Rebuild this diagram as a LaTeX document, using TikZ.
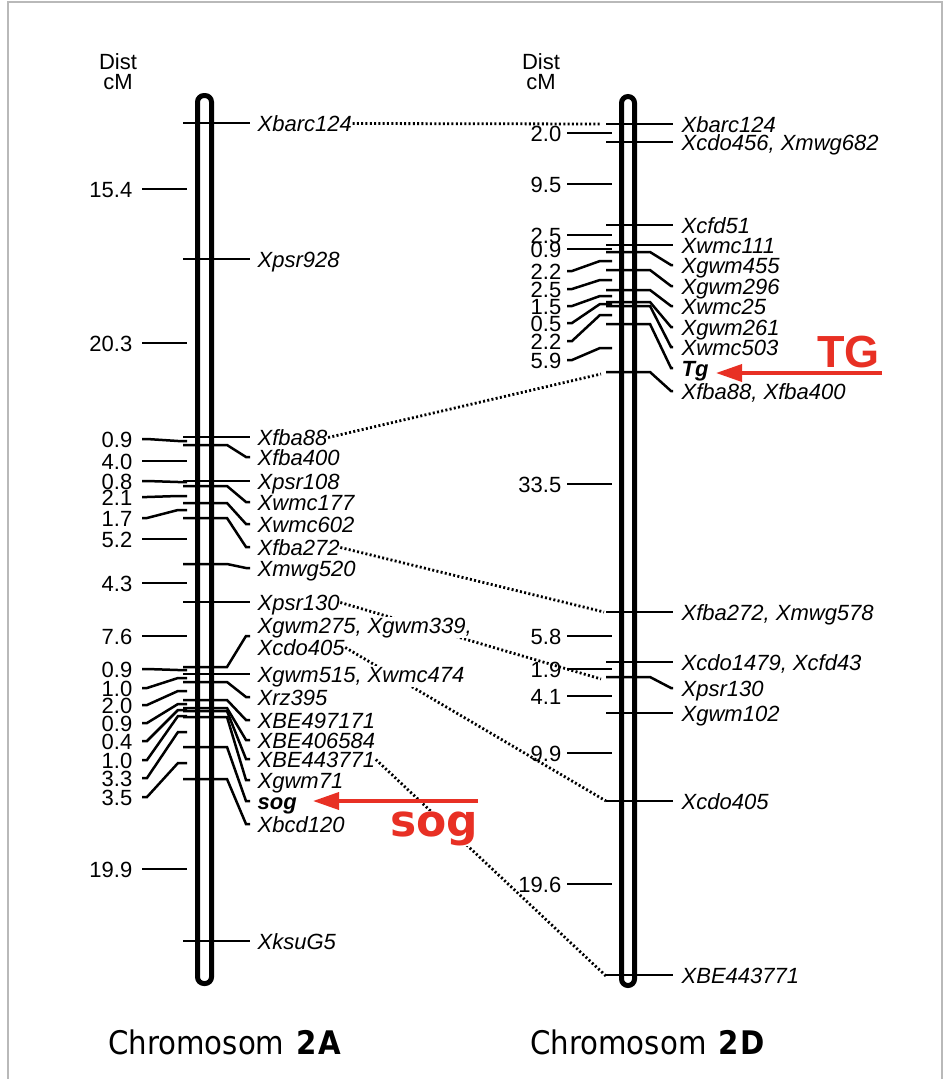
\documentclass[tikz,border=0pt]{standalone}
\usepackage{fontspec}
\setmainfont{Liberation Sans}
\newfontfamily\chromfont[FakeStretch=0.9]{DejaVu Sans}
\newfontfamily\sogfont{DejaVu Sans}
\usetikzlibrary{arrows.meta}
\definecolor{arrred}{RGB}{232,48,36}
\definecolor{framegray}{RGB}{185,185,185}
\newcommand\lblsize{\fontsize{22}{24}\selectfont}
\pgfdeclarelayer{bg}
\pgfsetlayers{bg,main}
\newcommand\LMark[4]{%
  \draw[tk] (183,#2) -- (227,#2) -- (246,#3) -- (250,#3);
  \node[mk] (#1) at (257,#3+8) {#4};}
\newcommand\RMark[4]{%
  \draw[tk] (606,#2) -- (650,#2) -- (671,#3) -- (673,#3);
  \node[mk] (#1) at (681,#3+8) {#4};}
\newcommand\LDist[4]{%
  \node[dst] (#1) at (133,#2+8) {#4};
  \draw[tk] (142,#2) -- (147,#2) -- (178,#3) -- (187,#3);}
\newcommand\RDist[4]{%
  \node[dst] (#1) at (562,#2+8) {#4};
  \draw[tk] (567,#2) -- (572,#2) -- (600,#3) -- (612,#3);}
\tikzset{
  rod/.style={line width=5pt, rounded corners=6.5pt},
  tk/.style={line width=2.5pt},
  mk/.style={anchor=base west, inner sep=0.5pt, font=\lblsize\itshape},
  dst/.style={anchor=base east, inner sep=0.5pt, font=\lblsize},
  plain/.style={inner sep=0pt, font=\lblsize},
  dotline/.style={line width=2.8pt, dash pattern=on 2pt off 2.3pt},
  redarrow/.style={draw=arrred, line width=3.6pt, -{Triangle[length=26pt,width=17pt]}},
  chrom/.style={anchor=base west, inner sep=0pt, font=\chromfont\fontsize{32.5}{34}\selectfont}
}
\begin{document}
\begin{tikzpicture}[x=1pt,y=-1pt]
\useasboundingbox (0,0) rectangle (947,1079);
\draw[framegray, line width=1.5pt] (8,1079) -- (8,2) -- (942,2) -- (942,1079);

% headers
\node[plain] (distL) at (118,62) {Dist};
\node[plain] (cmL) at (118,82) {cM};
\node[plain] (distR) at (541,62) {Dist};
\node[plain] (cmR) at (541,82) {cM};

% chromosomes
\draw[rod] (197.5,95.5) rectangle (211.5,983.5);
\draw[rod] (621.5,96.5) rectangle (634.5,985.5);

% left markers
\LMark{barcL}{123}{123}{Xbarc124}
\LMark{psr928}{259}{259}{Xpsr928}
\LMark{fba88L}{437}{437}{Xfba88}
\LMark{fba400L}{445}{457}{Xfba400}
\LMark{psr108}{481}{481}{Xpsr108}
\LMark{wmc177}{486}{502}{Xwmc177}
\LMark{wmc602}{503}{524}{Xwmc602}
\LMark{fba272L}{518}{547}{Xfba272}
\LMark{mwg520}{564}{568}{Xmwg520}
\LMark{psr130L}{602}{602}{Xpsr130}
\draw[tk] (183,667) -- (227,667) -- (246,636) -- (250,636);
\node[mk, fill=white] (gwm275) at (257,625+8) {Xgwm275, Xgwm339,};
\node[mk] (cdoL) at (257,647+8) {Xcdo405};
\LMark{gwm515}{674}{674}{Xgwm515, Xwmc474}
\LMark{rz395}{682}{697}{Xrz395}
\LMark{be497}{700}{720}{XBE497171}
\LMark{be406}{708}{740}{XBE406584}
\LMark{be443L}{711}{759}{XBE443771}
\LMark{gwm71}{717}{780}{Xgwm71}
\LMark{sogL}{747}{801}{\textbf{sog}}
\LMark{bcd120}{779}{824}{Xbcd120}
\LMark{ksu}{941}{941}{XksuG5}
\node[mk, fill=white] (gwm515b) at (257,674+8) {Xgwm515, Xwmc474};

% left distances
\LDist{e1}{189}{189}{15.4}
\LDist{e2}{343}{343}{20.3}
\LDist{e3}{439}{441}{0.9}
\LDist{e4}{461}{461}{4.0}
\LDist{e5}{481}{482}{0.8}
\LDist{e6}{497}{496}{2.1}
\LDist{e7}{518}{510}{1.7}
\LDist{e8}{539}{539}{5.2}
\LDist{e9}{583}{583}{4.3}
\LDist{e10}{636}{636}{7.6}
\LDist{e11}{669}{670}{0.9}
\LDist{e12}{688}{678}{1.0}
\LDist{e13}{705}{691}{2.0}
\LDist{e14}{723}{704}{0.9}
\LDist{e15}{741}{710}{0.4}
\LDist{e16}{760}{716}{1.0}
\LDist{e17}{778}{732}{3.3}
\LDist{e18}{797}{763}{3.5}
\LDist{e19}{869}{869}{19.9}

% right markers
\RMark{barcR}{124}{124}{Xbarc124}
\RMark{cdo456}{142}{142}{Xcdo456, Xmwg682}
\RMark{cfd51}{225}{225}{Xcfd51}
\RMark{wmc111}{245}{245}{Xwmc111}
\RMark{gwm455}{252}{265}{Xgwm455}
\RMark{gwm296}{270}{286}{Xgwm296}
\RMark{wmc25}{290}{306}{Xwmc25}
\RMark{gwm261}{302}{327}{Xgwm261}
\RMark{wmc503}{306}{347}{Xwmc503}
\RMark{tgR}{324}{368}{\textbf{Tg}}
\RMark{fba88R}{372}{391}{Xfba88, Xfba400}
\RMark{fba272R}{612}{612}{Xfba272, Xmwg578}
\RMark{cdo1479}{662}{662}{Xcdo1479, Xcfd43}
\RMark{psr130R}{677}{688}{Xpsr130}
\RMark{gwm102}{713}{713}{Xgwm102}
\RMark{cdo405R}{801}{801}{Xcdo405}
\RMark{be443R}{975}{975}{XBE443771}

% right distances
\RDist{d1}{133}{133}{2.0}
\RDist{d2}{184}{184}{9.5}
\RDist{d3}{235}{235}{2.5}
\RDist{d4}{249}{249}{0.9}
\RDist{d5}{271}{261}{2.2}
\RDist{d6}{289}{280}{2.5}
\RDist{d7}{306}{296}{1.5}
\RDist{d8}{323}{304}{0.5}
\RDist{d9}{341}{315}{2.2}
\RDist{d10}{360}{348}{5.9}
\RDist{d11}{484}{484}{33.5}
\RDist{d12}{636}{636}{5.8}
\RDist{d13}{669}{669}{1.9}
\RDist{d14}{696}{696}{4.1}
\RDist{d15}{753}{753}{9.9}
\RDist{d16}{884}{884}{19.6}

% dotted connectors (background)
\coordinate (rbarc) at (601,124);
\coordinate (rfba88) at (601,374);
\coordinate (rfba272) at (604,612);
\coordinate (rpsr130) at (601,679);
\coordinate (rcdo405) at (606,801);
\coordinate (rbe443) at (606,976);
\begin{pgfonlayer}{bg}
\draw[dotline] ([yshift=7.5pt]barcL.base east) -- (rbarc);
\draw[dotline] ([yshift=7.5pt]fba88L.base east) -- (rfba88);
\draw[dotline] ([yshift=7.5pt]fba272L.base east) -- (rfba272);
\draw[dotline] ([yshift=7.5pt]psr130L.base east) -- (rpsr130);
\draw[dotline] ([yshift=7.5pt]cdoL.base east) -- (rcdo405);
\draw[dotline] ([yshift=7.5pt]be443L.base east) -- (rbe443);
\end{pgfonlayer}

% red annotations
\node[anchor=base east, inner sep=0pt, text=arrred, font=\fontsize{45}{47}\selectfont\bfseries] (TGt) at (880,367) {TG};
\coordinate (tgtail) at (882,373);
\coordinate (tgtip) at (716,373);
\draw[redarrow] (tgtail) -- (tgtip);
\node[anchor=base west, inner sep=0pt, fill=white, text=arrred, font=\sogfont\fontsize{44}{46}\selectfont\bfseries] (sogt) at (390,836) {sog};
\coordinate (sogtail) at (478,801);
\coordinate (sogtip) at (313,801);
\draw[redarrow] (sogtail) -- (sogtip);

% chromosome names
\node[chrom] (c2A) at (108,1054) {Chromosom\hspace{12pt}\textbf{2\hspace{1.5pt}A}};
\node[chrom] (c2D) at (530,1054) {Chromosom\hspace{12pt}\textbf{2\hspace{1.5pt}D}};
\end{tikzpicture}
\end{document}
